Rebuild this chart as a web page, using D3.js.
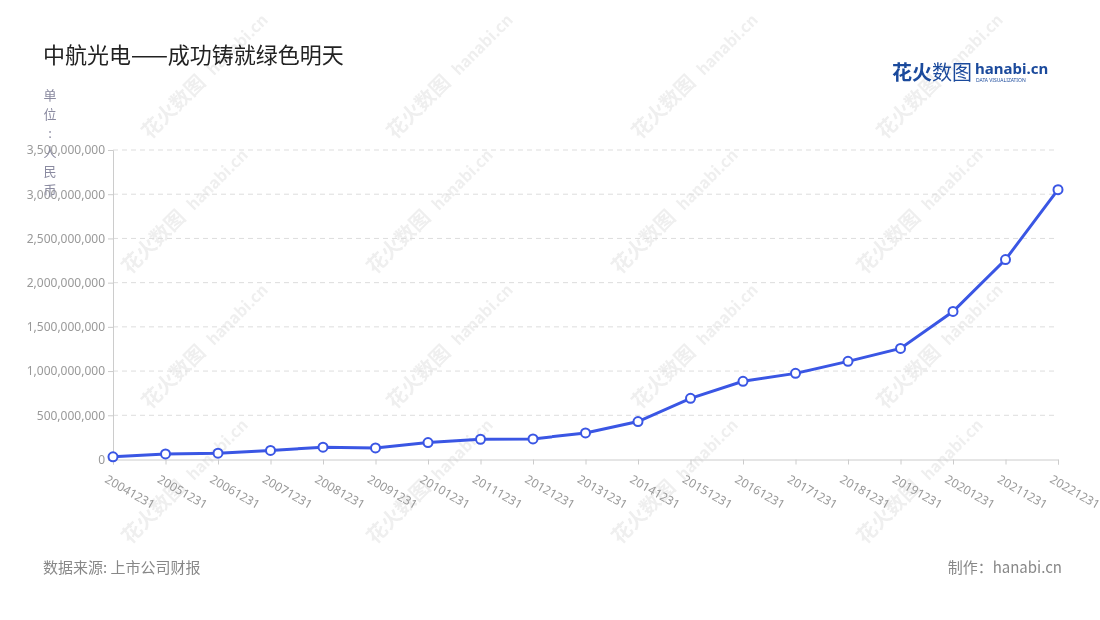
<!DOCTYPE html>
<html><head><meta charset="utf-8">
<script src="https://cdn.jsdelivr.net/npm/d3@7"></script>
<style>body{margin:0;background:#fff;font-family:"Noto Sans CJK SC","Noto Sans",sans-serif;}</style>
</head><body><svg id="c" width="1100" height="620"></svg>
<script>
const categories=["20041231","20051231","20061231","20071231","20081231","20091231","20101231","20111231","20121231","20131231","20141231","20151231","20161231","20171231","20181231","20191231","20201231","20211231","20221231"];
const values=[30e6,63e6,71e6,102e6,139e6,131e6,192e6,229e6,233e6,300e6,429e6,692e6,884e6,974e6,1110e6,1256e6,1674e6,2261e6,3051e6];
const yTicks=[0,5e8,1e9,1.5e9,2e9,2.5e9,3e9,3.5e9];
const svg=d3.select("#c");
const L=113,R=1058,T=150,B=459.5;
const x=d3.scalePoint().domain(categories).range([L,R]);
const y=d3.scaleLinear().domain([0,3.5e9]).range([B,T]);
// watermarks
const wm=svg.append("g").attr("opacity",0.08);
for(let r=0;r<4;r++)for(let c=0;c<4;c++){
  const g=wm.append("g").attr("transform",`translate(${150+c*245+(r%2?-20:0)},${140+r*135}) rotate(-45)`);
  g.append("text").attr("font-size",20).attr("font-weight","bold").attr("fill","#333").text("花火数图");
  g.append("text").attr("x",90).attr("font-size",16).attr("font-weight","bold").attr("fill","#333").text("hanabi.cn");
}
// grid
svg.append("g").selectAll("line").data(yTicks.slice(1)).join("line")
 .attr("x1",L).attr("x2",R).attr("y1",d=>y(d)).attr("y2",d=>y(d))
 .attr("stroke","#ddd").attr("stroke-dasharray","5,4");
const ya=svg.append("g").attr("transform",`translate(${L},0)`).call(d3.axisLeft(y).tickValues(yTicks).tickFormat(d3.format(",")).tickSize(5));
ya.select(".domain").attr("stroke","#ccc");ya.selectAll(".tick line").attr("stroke","#ccc");
ya.selectAll("text").attr("fill","#999").attr("font-size",12).attr("font-family","Noto Sans");
const xa=svg.append("g").attr("transform",`translate(0,${B})`).call(d3.axisBottom(x).tickSize(5));
xa.select(".domain").attr("stroke","#ccc");xa.selectAll(".tick line").attr("stroke","#ccc");
xa.selectAll("text").attr("fill","#999").attr("font-size",12).attr("font-family","Noto Sans")
 .attr("text-anchor","start").attr("transform","translate(0,6) rotate(30)").attr("dy","0.9em").attr("dx",0);
// unit label
const unit="单位:人民币".split("");
svg.append("g").selectAll("text").data(unit).join("text").attr("x",50).attr("y",(d,i)=>100+i*19)
 .attr("text-anchor","middle").attr("font-size",13).attr("fill","#8a8aa0").text(d=>d);
// line
svg.append("path").datum(values).attr("fill","none").attr("stroke","#3a56e4").attr("stroke-width",3)
 .attr("d",d3.line().x((d,i)=>x(categories[i])).y(d=>y(d)));
svg.append("g").selectAll("circle").data(values).join("circle").attr("cx",(d,i)=>x(categories[i])).attr("cy",d=>y(d))
 .attr("r",4.5).attr("fill","#fff").attr("stroke","#3a56e4").attr("stroke-width",2);
// title & footer
svg.append("text").attr("x",43).attr("y",63).attr("font-size",22).attr("fill","#222").text("中航光电——成功铸就绿色明天");
svg.append("text").attr("x",43).attr("y",573).attr("font-size",15).attr("fill","#888").text("数据来源: 上市公司财报");
svg.append("text").attr("x",1062).attr("y",573).attr("text-anchor","end").attr("font-size",15).attr("fill","#888").text("制作：hanabi.cn");
svg.append("text").attr("x",892).attr("y",80).attr("font-size",20).attr("font-weight","bold").attr("fill","#1b4a9c").text("花火");
svg.append("text").attr("x",932).attr("y",80).attr("font-size",20).attr("fill","#1b4a9c").text("数图");
svg.append("text").attr("x",975).attr("y",74).attr("font-size",15).attr("font-weight","bold").attr("fill","#1b4a9c").attr("font-family","Noto Sans").text("hanabi.cn");
svg.append("text").attr("x",976).attr("y",82).attr("font-size",5).attr("fill","#1b4a9c").attr("font-family","Noto Sans").text("DATA VISUALIZATION");
</script></body></html>
